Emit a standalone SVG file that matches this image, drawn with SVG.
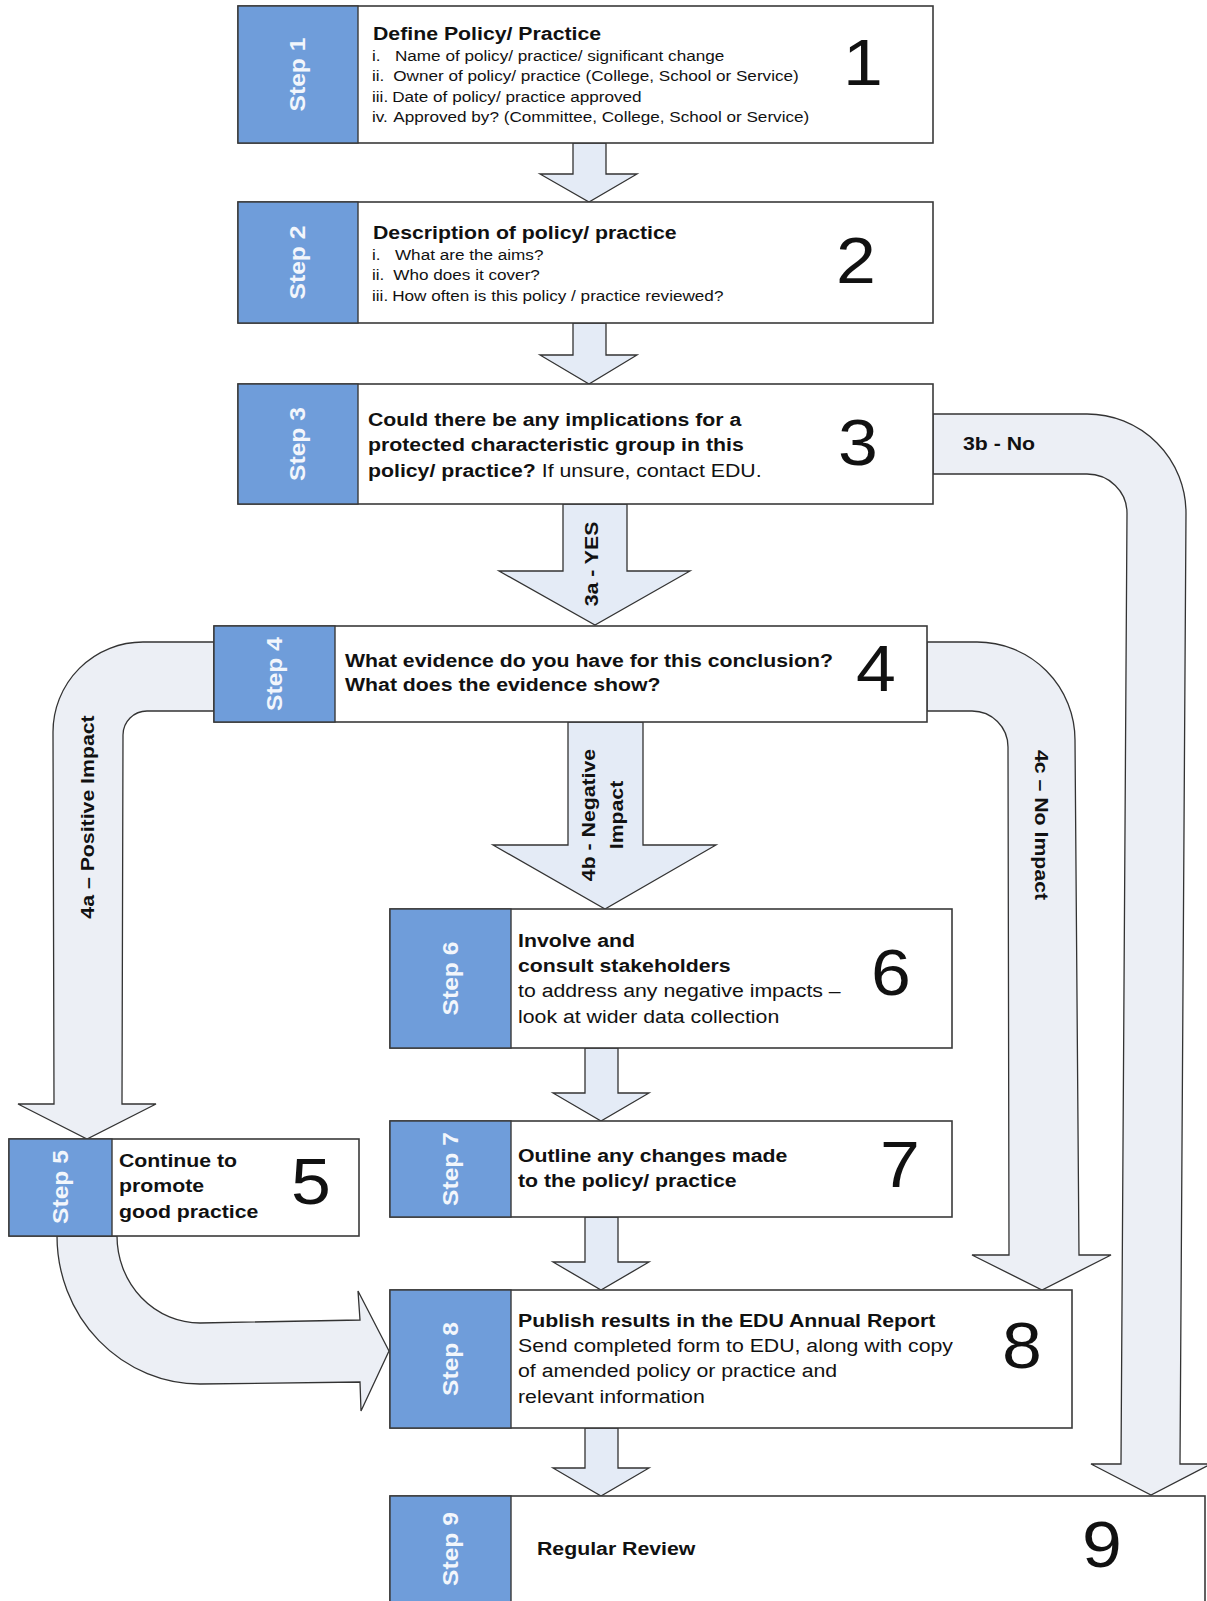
<svg xmlns="http://www.w3.org/2000/svg" width="1207" height="1601" viewBox="0 0 1207 1601">
<style>
text{font-family:"Liberation Sans",Arial,sans-serif;fill:#111}
.box{fill:#fff;stroke:#3a3a3a;stroke-width:1.6}
.blue{fill:#6F9DDA;stroke:#3a3a3a;stroke-width:1.4}
.band{fill:#ECEFF5;stroke:#333;stroke-width:1.3}
.arr{fill:#E4EBF6;stroke:#333;stroke-width:1.3}
.step{font-weight:bold;font-size:22px;fill:#F2F6FC;text-anchor:middle}
.t{font-size:19px}
.b{font-weight:bold}
.s{font-size:15.3px}
.num{font-size:64px;text-anchor:middle}
.lbl{font-weight:bold;font-size:19px}
.mid{text-anchor:middle}
</style>
<rect width="1207" height="1601" fill="#fff"/>
<g id="connectors">
<path class="band" d="M933,414 L1087,414 A99,99 0 0 1 1186,513 L1180,1464 L1211,1464 L1151,1495 L1091,1464 L1121,1464 L1127,513 A40,39 0 0 0 1087,474 L933,474 Z"/>
<path class="band" d="M927,642 L977,642 A98,98 0 0 1 1075,740 L1079,1255 L1111,1255 L1042,1290 L972,1255 L1009,1255 L1008,747 A36,36 0 0 0 972,711 L927,711 Z"/>
<path class="band" d="M214,642 L143,642 A90,90 0 0 0 53,732 L54,1104 L18,1104 L87,1139 L156,1104 L122,1104 L123,735 A24,24 0 0 1 147,711 L214,711 Z"/>
<path class="band" d="M57,1236 A143,148 0 0 0 200,1384 L360,1382 L361,1411 L389,1351 L358,1291 L360,1320 L200,1323 A83,87 0 0 1 117,1236 Z"/>
<polygon class="arr" points="573,143 606,143 606,174 637,174 589,202 540,174 573,174"/>
<polygon class="arr" points="573,323 606,323 606,355 637,355 589,384 540,355 573,355"/>
<polygon class="arr" points="563,504 627,504 627,571 690,571 595,625 499,571 563,571"/>
<polygon class="arr" points="568,722 643,722 643,845 716,845 605,909 493,845 568,845"/>
<polygon class="arr" points="585,1048 618,1048 618,1093 649,1093 601,1121 553,1093 585,1093"/>
<polygon class="arr" points="585,1217 618,1217 618,1262 649,1262 601,1290 553,1262 585,1262"/>
<polygon class="arr" points="585,1428 618,1428 618,1468 649,1468 601,1496 553,1468 585,1468"/>
<text class="lbl" transform="matrix(1.12,0,0,1,963,450)">3b - No</text>
<text class="lbl mid" transform="translate(591,564) rotate(-90) scale(1.12,1)" y="7">3a - YES</text>
<text class="lbl mid" transform="translate(605,815) rotate(-90) scale(1.12,1)"><tspan x="0" y="-10">4b - Negative</tspan><tspan x="0" y="18">Impact</tspan></text>
<text class="lbl mid" transform="translate(87,817) rotate(-90) scale(1.12,1)" y="7">4a – Positive Impact</text>
<text class="lbl mid" transform="translate(1042,825) rotate(90) scale(1.12,1)" y="7">4c – No Impact</text>
</g>
<g id="step1">
<rect class="box" x="238" y="6" width="695" height="137"/>
<rect class="blue" x="238" y="6" width="120" height="137"/>
<text class="step" transform="translate(297,74.5) rotate(-90) scale(1.12,1)" y="8">Step 1</text>
<text class="t b" transform="matrix(1.12,0,0,1,373,39.5)">Define Policy/ Practice</text>
<text class="s" transform="matrix(1.12,0,0,1,372,61)"><tspan x="0" y="0">i.</tspan><tspan x="20.5" y="0">Name of policy/ practice/ significant change</tspan><tspan x="0" y="20.5">ii.</tspan><tspan x="19" y="20.5">Owner of policy/ practice (College, School or Service)</tspan><tspan x="0" y="41">iii.</tspan><tspan x="18" y="41">Date of policy/ practice approved</tspan><tspan x="0" y="61.5">iv.</tspan><tspan x="19" y="61.5">Approved by? (Committee, College, School or Service)</tspan></text>
<text class="num" transform="matrix(1.12,0,0,1,863,85)">1</text>
</g>
<g id="step2">
<rect class="box" x="238" y="202" width="695" height="121"/>
<rect class="blue" x="238" y="202" width="120" height="121"/>
<text class="step" transform="translate(297,262.5) rotate(-90) scale(1.12,1)" y="8">Step 2</text>
<text class="t b" transform="matrix(1.12,0,0,1,373,238.5)">Description of policy/ practice</text>
<text class="s" transform="matrix(1.12,0,0,1,372,260)"><tspan x="0" y="0">i.</tspan><tspan x="20.5" y="0">What are the aims?</tspan><tspan x="0" y="20.5">ii.</tspan><tspan x="19" y="20.5">Who does it cover?</tspan><tspan x="0" y="41">iii.</tspan><tspan x="18" y="41">How often is this policy / practice reviewed?</tspan></text>
<text class="num" transform="matrix(1.12,0,0,1,856,283)">2</text>
</g>
<g id="step3">
<rect class="box" x="238" y="384" width="695" height="120"/>
<rect class="blue" x="238" y="384" width="120" height="120"/>
<text class="step" transform="translate(297,444) rotate(-90) scale(1.12,1)" y="8">Step 3</text>
<text class="t" transform="matrix(1.12,0,0,1,368,426)"><tspan class="b" x="0" y="0">Could there be any implications for a</tspan><tspan class="b" x="0" y="25.5">protected characteristic group in this</tspan><tspan x="0" y="51"><tspan class="b">policy/ practice?</tspan> If unsure, contact EDU.</tspan></text>
<text class="num" transform="matrix(1.12,0,0,1,858,465)">3</text>
</g>
<g id="step4">
<rect class="box" x="214" y="626" width="713" height="96"/>
<rect class="blue" x="214" y="626" width="121" height="96"/>
<text class="step" transform="translate(274,674) rotate(-90) scale(1.12,1)" y="8">Step 4</text>
<text class="t b" transform="matrix(1.12,0,0,1,345,666.5)"><tspan x="0" y="0">What evidence do you have for this conclusion?</tspan><tspan x="0" y="25">What does the evidence show?</tspan></text>
<text class="num" transform="matrix(1.12,0,0,1,876,691)">4</text>
</g>
<g id="step5">
<rect class="box" x="9" y="1139" width="350" height="97"/>
<rect class="blue" x="9" y="1139" width="103" height="97"/>
<text class="step" transform="translate(60,1187) rotate(-90) scale(1.12,1)" y="8">Step 5</text>
<text class="t b" transform="matrix(1.12,0,0,1,119,1167)"><tspan x="0" y="0">Continue to</tspan><tspan x="0" y="25.5">promote</tspan><tspan x="0" y="51">good practice</tspan></text>
<text class="num" transform="matrix(1.12,0,0,1,311,1204)">5</text>
</g>
<g id="step6">
<rect class="box" x="390" y="909" width="562" height="139"/>
<rect class="blue" x="390" y="909" width="121" height="139"/>
<text class="step" transform="translate(450,978.5) rotate(-90) scale(1.12,1)" y="8">Step 6</text>
<text class="t" transform="matrix(1.12,0,0,1,518,946.5)"><tspan class="b" x="0" y="0">Involve and</tspan><tspan class="b" x="0" y="25.5">consult stakeholders</tspan><tspan x="0" y="51">to address any negative impacts –</tspan><tspan x="0" y="76.5">look at wider data collection</tspan></text>
<text class="num" transform="matrix(1.12,0,0,1,891,995)">6</text>
</g>
<g id="step7">
<rect class="box" x="390" y="1121" width="562" height="96"/>
<rect class="blue" x="390" y="1121" width="121" height="96"/>
<text class="step" transform="translate(450,1169) rotate(-90) scale(1.12,1)" y="8">Step 7</text>
<text class="t b" transform="matrix(1.12,0,0,1,518,1161.5)"><tspan x="0" y="0">Outline any changes made</tspan><tspan x="0" y="25.5">to the policy/ practice</tspan></text>
<text class="num" transform="matrix(1.12,0,0,1,900,1187)">7</text>
</g>
<g id="step8">
<rect class="box" x="390" y="1290" width="682" height="138"/>
<rect class="blue" x="390" y="1290" width="121" height="138"/>
<text class="step" transform="translate(450,1359) rotate(-90) scale(1.12,1)" y="8">Step 8</text>
<text class="t" transform="matrix(1.12,0,0,1,518,1326.5)"><tspan class="b" x="0" y="0">Publish results in the EDU Annual Report</tspan><tspan x="0" y="25.5">Send completed form to EDU, along with copy</tspan><tspan x="0" y="51">of amended policy or practice and</tspan><tspan x="0" y="76.5">relevant information</tspan></text>
<text class="num" transform="matrix(1.12,0,0,1,1022,1368)">8</text>
</g>
<g id="step9">
<rect class="box" x="390" y="1496" width="815" height="110"/>
<rect class="blue" x="390" y="1496" width="121" height="110"/>
<text class="step" transform="translate(450,1549) rotate(-90) scale(1.12,1)" y="8">Step 9</text>
<text class="t b" transform="matrix(1.12,0,0,1,537,1555)">Regular Review</text>
<text class="num" transform="matrix(1.12,0,0,1,1102,1567)">9</text>
</g>
</svg>
